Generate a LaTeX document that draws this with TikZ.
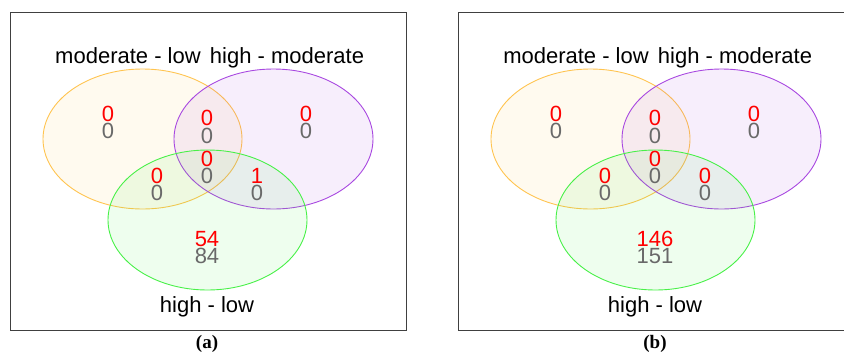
\documentclass[tikz,border=0pt]{standalone}
\usepackage{fontspec}
\setmainfont{Liberation Sans}
\newfontfamily\capfont{Liberation Serif}
\usetikzlibrary{shapes.geometric}

\definecolor{setml}{RGB}{255,196,80}
\definecolor{sethm}{RGB}{168,72,224}
\definecolor{sethl}{RGB}{72,240,72}
\definecolor{numgray}{RGB}{105,105,105}

\begin{document}
\begin{tikzpicture}[x=1pt, y=-1pt,
    vset/.style={ellipse, draw=#1, fill=#1, fill opacity=0.09, line width=0.9pt,
      minimum width=199pt, minimum height=140pt, inner sep=0pt},
    setname/.style={font=\fontsize{22}{26}\selectfont, anchor=base, inner sep=0pt},
    newnum/.style={font=\fontsize{22}{26}\selectfont, anchor=base, inner sep=0pt, text=red},
    oldnum/.style={font=\fontsize{22}{26}\selectfont, anchor=base, inner sep=0pt, text=numgray},
    frame/.style={draw=black!75, line width=0.8pt}]
  \useasboundingbox (0,0) rectangle (844,354);
  \clip (0,0) rectangle (844,354);
  % one panel per comparison: (a) and (b)
  \foreach \p/\dx/\bcr/\cr/\cg in {a/0/1/54/84, b/448/0/146/151} {
    \begin{scope}[xshift=\dx]
      \draw[frame] (10,12) rectangle (406,330);
      \node[vset=setml] (\p-ml) at (142.5,139) {};
      \node[vset=sethm] (\p-hm) at (273.5,139) {};
      \node[vset=sethl] (\p-hl) at (207.5,220) {};
      \node[setname] (\p-mlname) at (128,63) {moderate - low};
      \node[setname] (\p-hmname) at (287,63) {high - moderate};
      \node[setname] (\p-hlname) at (207,312) {high - low};
      % counts: red above, gray below
      \node[newnum] (\p-n1) at (108,121) {0};
      \node[oldnum] (\p-o1) at (108,138) {0};
      \node[newnum] (\p-n2) at (207,125) {0};
      \node[oldnum] (\p-o2) at (207,143) {0};
      \node[newnum] (\p-n3) at (306,121) {0};
      \node[oldnum] (\p-o3) at (306,138) {0};
      \node[newnum] (\p-n4) at (207,166) {0};
      \node[oldnum] (\p-o4) at (207,183) {0};
      \node[newnum] (\p-n5) at (157,183) {0};
      \node[oldnum] (\p-o5) at (157,200) {0};
      \node[newnum] (\p-n6) at (257,183) {\bcr};
      \node[oldnum] (\p-o6) at (257,200) {0};
      \node[newnum] (\p-n7) at (207,246) {\cr};
      \node[oldnum] (\p-o7) at (207,263) {\cg};
      \node[font=\capfont\bfseries\fontsize{19}{22}\selectfont, anchor=base, inner sep=0pt]
        (\p-cap) at (207,348) {(\p)};
    \end{scope}
  }
\end{tikzpicture}
\end{document}
